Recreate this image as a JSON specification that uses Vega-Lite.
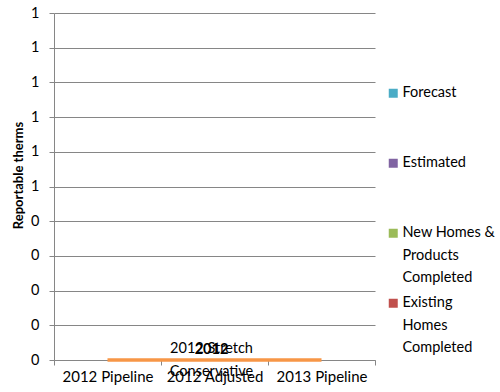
{
  "$schema": "https://vega.github.io/schema/vega-lite/v6.json",
  "width": 321,
  "height": 347,
  "autosize": "none",
  "padding": {"left": 54, "top": 13, "right": 125, "bottom": 32},
  "background": "white",
  "config": {
    "view": {"stroke": null},
    "font": "Lato",
    "axis": {"labelFont": "Lato", "titleFont": "Lato", "labelColor": "#000000", "titleColor": "#000000"}
  },
  "datasets": {
    "stack": [
      {"category": "2012 Pipeline", "series": "Existing Homes Completed", "value": 0},
      {"category": "2012 Pipeline", "series": "New Homes & Products Completed", "value": 0},
      {"category": "2012 Pipeline", "series": "Estimated", "value": 0},
      {"category": "2012 Pipeline", "series": "Forecast", "value": 0},
      {"category": "2012 Adjusted", "series": "Existing Homes Completed", "value": 0},
      {"category": "2012 Adjusted", "series": "New Homes & Products Completed", "value": 0},
      {"category": "2012 Adjusted", "series": "Estimated", "value": 0},
      {"category": "2012 Adjusted", "series": "Forecast", "value": 0},
      {"category": "2013 Pipeline", "series": "Existing Homes Completed", "value": 0},
      {"category": "2013 Pipeline", "series": "New Homes & Products Completed", "value": 0},
      {"category": "2013 Pipeline", "series": "Estimated", "value": 0},
      {"category": "2013 Pipeline", "series": "Forecast", "value": 0}
    ],
    "stretch": [
      {"category": "2012 Pipeline", "value": 0},
      {"category": "2012 Adjusted", "value": 0},
      {"category": "2013 Pipeline", "value": 0}
    ],
    "labels": [
      {"category": "2012 Adjusted", "value": 0, "label": "2012 Stretch\nConservative"}
    ],
    "boldlabel": [
      {"category": "2012 Adjusted", "value": 0, "label": "2012"}
    ]
  },
  "encoding": {
    "x": {
      "field": "category",
      "type": "nominal",
      "sort": ["2012 Pipeline", "2012 Adjusted", "2013 Pipeline"],
      "scale": {"paddingInner": 0, "paddingOuter": 0},
      "axis": {
        "title": null,
        "labelAngle": 0,
        "labelFontSize": 15,
        "labelPadding": 4,
        "tickBand": "extent",
        "tickSize": 5,
        "tickColor": "#868686",
        "domainColor": "#868686",
        "grid": false
      }
    },
    "y": {
      "field": "value",
      "type": "quantitative",
      "stack": "zero",
      "scale": {"domain": [0, 1], "nice": false, "zero": true},
      "axis": {
        "title": "Reportable therms",
        "titleFontSize": 13,
        "titleFontWeight": "bold",
        "titleX": -32,
        "titleY": 162,
        "titleAngle": -90,
        "titleAlign": "center",
        "titleBaseline": "alphabetic",
        "values": [0, 0.1, 0.2, 0.3, 0.4, 0.5, 0.6, 0.7, 0.8, 0.9, 1],
        "format": ".0f",
        "labelFontSize": 14.5,
        "labelPadding": 10,
        "tickSize": 5,
        "tickColor": "#868686",
        "domainColor": "#868686",
        "grid": true,
        "gridColor": "#868686",
        "gridOpacity": 1
      }
    }
  },
  "layer": [
    {
      "data": {"name": "stack"},
      "mark": {"type": "bar"},
      "encoding": {
        "color": {
          "field": "series",
          "type": "nominal",
          "scale": {
            "domain": ["Forecast", "Estimated", "New Homes & Products Completed", "Existing Homes Completed"],
            "range": ["#4BACC6", "#8064A2", "#9BBB59", "#C0504D"]
          },
          "legend": {
            "title": null,
            "orient": "none",
            "legendX": 332,
            "legendY": 73,
            "symbolType": "square",
            "symbolSize": 81,
            "symbolStrokeWidth": 0,
            "symbolOpacity": 1,
            "labelFont": "Lato",
            "labelFontSize": 14.5,
            "labelColor": "#000000",
            "labelOffset": 2,
            "labelLimit": 200,
            "labelBaseline": "top",
            "rowPadding": 10,
            "labelExpr": "datum.label == 'New Homes & Products Completed' ? ['New Homes &', 'Products', 'Completed'] : datum.label == 'Existing Homes Completed' ? ['Existing', 'Homes', 'Completed'] : [datum.label, ' ', ' ']",
            "encode": {"labels": {"update": {"lineHeight": {"value": 22.5}, "dy": {"value": -7}}}}
          }
        }
      }
    },
    {
      "data": {"name": "stretch"},
      "mark": {"type": "line", "color": "#F79646", "strokeWidth": 3.5, "strokeCap": "butt"},
      "encoding": {"y": {"field": "value", "type": "quantitative", "stack": null}}
    },
    {
      "data": {"name": "labels"},
      "mark": {"type": "text", "lineBreak": "\n", "lineHeight": 23, "fontSize": 14.5, "baseline": "middle", "align": "center", "dx": -3, "dy": -11.5, "color": "#000000"},
      "encoding": {"y": {"field": "value", "type": "quantitative", "stack": null}, "text": {"field": "label"}}
    },
    {
      "data": {"name": "boldlabel"},
      "mark": {"type": "text", "fontSize": 14.5, "fontWeight": "bold", "baseline": "middle", "align": "center", "dx": -3, "dy": -10, "color": "#000000"},
      "encoding": {"y": {"field": "value", "type": "quantitative", "stack": null}, "text": {"field": "label"}}
    }
  ]
}
